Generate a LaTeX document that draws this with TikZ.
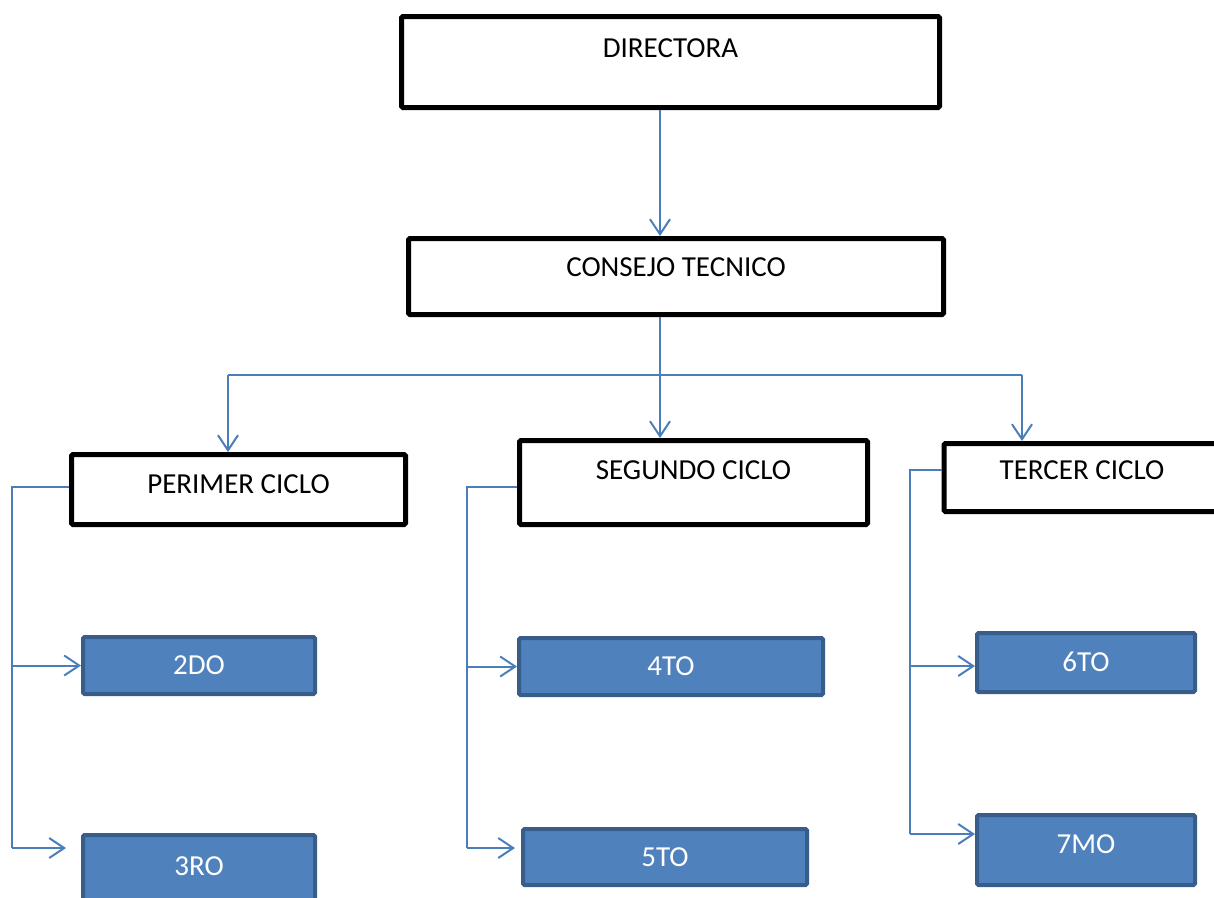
\documentclass[tikz,border=0pt]{standalone}
\usepackage{fontspec}
\setmainfont{Carlito}
\usepackage{tikz}
\usetikzlibrary{arrows.meta}
\definecolor{conncol}{HTML}{4A7EBB}
\definecolor{gradofill}{HTML}{4F81BD}
\definecolor{gradoline}{HTML}{385D8A}
\tikzstyle{cargo} = [rectangle, draw=black, line width=5pt, fill=white,
rounded corners=1.5pt, inner sep=0pt, text height=18pt, text depth=0pt]
\tikzstyle{grado} = [rectangle, draw=gradoline, line width=4pt, fill=gradofill,
text=white, rounded corners=1.5pt, inner sep=0pt, text height=18pt, text depth=0pt]
\tikzstyle{conn} = [draw=conncol, line width=2pt]
\tikzstyle{line} = [conn, -{Straight Barb[length=15pt, width=20pt, line width=2pt]}]

\begin{document}
\begin{tikzpicture}[x=1pt, y=-1pt, font=\fontsize{29}{34}\selectfont]
	\useasboundingbox (0,0) rectangle (1214,897);
	\clip (0,0) rectangle (1214,897);
	% Place nodes
	\node [cargo, minimum width=538pt, minimum height=91pt, text depth=28pt] (dir) at (670.5,62) {DIRECTORA};
	\node [cargo, minimum width=535pt, minimum height=76pt, text depth=18pt] (cons) at (676,276.5) {CONSEJO TECNICO};
	\node [cargo, minimum width=334pt, minimum height=70pt, text depth=10pt] (c1) at (238.5,489.5) {PERIMER CICLO};
	\node [cargo, minimum width=348pt, minimum height=84pt, text depth=24pt] (c2) at (693.5,482.5) {SEGUNDO CICLO};
	\node [cargo, minimum width=276pt, minimum height=68pt, text depth=14pt] (c3) at (1082,477.5) {TERCER CICLO};
	%
	\node [grado, minimum width=232pt, minimum height=57pt] (g2) at (199,665.5) {2DO};
	\node [grado, minimum width=232pt, minimum height=70pt, text depth=8pt] (g3) at (199,870) {3RO};
	\node [grado, minimum width=304pt, minimum height=57pt] (g4) at (671,666.5) {4TO};
	\node [grado, minimum width=284pt, minimum height=56pt] (g5) at (665,857) {5TO};
	\node [grado, minimum width=218pt, minimum height=59pt] (g6) at (1086,662.5) {6TO};
	\node [grado, minimum width=218pt, minimum height=70pt, text depth=12pt] (g7) at (1086,850) {7MO};
	%
	\coordinate (bus) at (660,375);
	\coordinate (busL) at (228,375);
	\coordinate (busR) at (1022,375);
	\path [line] (dir.south -| bus) -- (cons.north -| bus);
	\path [conn] (cons.south -| bus) -- (bus);
	\path [conn] (busL) -- (busR);
	\path [line] (bus) -- (c2.north -| bus);
	\path [line] (busL) -- (c1.north -| busL);
	\path [line] (busR) -- (c3.north -| busR);
	
	% primer ciclo
	\coordinate (t1) at (12,848);
	\path [conn] ([yshift=2.5pt]c1.west) -| (t1);
	\path [line] (t1 |- g2.west) -- (g2.west);
	\path [line] (t1) -- ([xshift=-15pt]g3.west |- t1);
	
	% segundo ciclo
	\coordinate (t2) at (467,848);
	\path [conn] ([yshift=-4.5pt]c2.west) -| (t2);
	\path [line] (t2 |- g4.west) -- (g4.west);
	\path [line] (t2) -- ([xshift=-6pt]g5.west |- t2);
	
	% tercer ciclo
	\coordinate (t3) at (910,834);
	\coordinate (a6) at ([yshift=-3.5pt]g6.west);
	\path [conn] ([yshift=7.5pt]c3.west) -| (t3);
	\path [line] (t3 |- a6) -- (a6);
	\path [line] (t3) -- (g7.west |- t3);
\end{tikzpicture}
\end{document}
